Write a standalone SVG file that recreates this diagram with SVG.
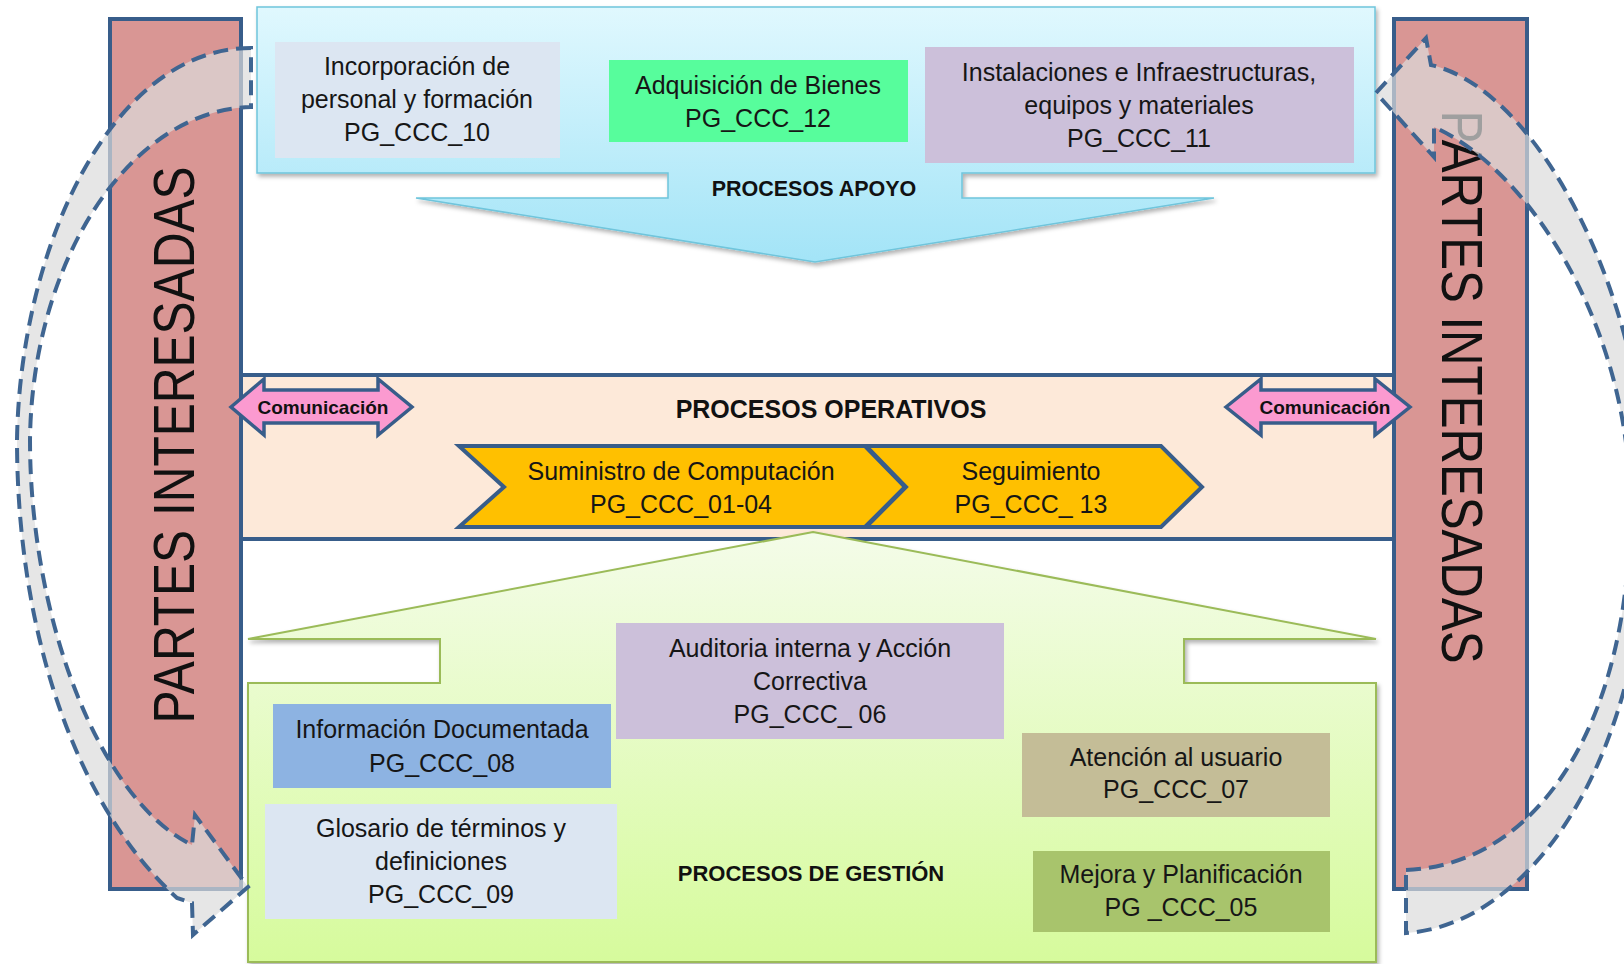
<svg xmlns="http://www.w3.org/2000/svg" width="1624" height="964" viewBox="0 0 1624 964">
<defs>
<linearGradient id="gSup" x1="0" y1="7" x2="0" y2="262" gradientUnits="userSpaceOnUse">
<stop offset="0" stop-color="#e0f8fe"/><stop offset="1" stop-color="#a3e4f7"/>
</linearGradient>
<linearGradient id="gMan" x1="0" y1="532" x2="0" y2="963" gradientUnits="userSpaceOnUse">
<stop offset="0" stop-color="#f4fce9"/><stop offset="1" stop-color="#d6fb9c"/>
</linearGradient>
<filter id="sh" x="-5%" y="-5%" width="110%" height="115%">
<feDropShadow dx="2" dy="3" stdDeviation="2" flood-color="#000" flood-opacity="0.3"/>
</filter>
<style>
.bar{fill:#d99694;stroke:#385d8a;stroke-width:4}
.pi{font-family:"Liberation Sans",Arial,sans-serif;font-size:57px;fill:#111;text-anchor:middle}
.t{font-family:"Liberation Sans",Arial,sans-serif;font-size:25px;fill:#161616;text-anchor:middle}
.b{font-family:"Liberation Sans",Arial,sans-serif;font-weight:bold;fill:#111;text-anchor:middle}
.chev{fill:#ffc000;stroke:#385d8a;stroke-width:4;stroke-linejoin:miter}
.comm{fill:#fb9ad0;stroke:#385d8a;stroke-width:3.5;stroke-linejoin:miter}
.cyc{fill:#dcdcdc;fill-opacity:0.7;stroke:#3f6591;stroke-width:4;stroke-dasharray:15 8}
</style>
</defs>
<rect width="1624" height="964" fill="#fff"/>

<g id="support">
<path d="M257,7 L1375,7 L1375,173 L962,173 L962,198 L1214,198 L815,262 L416,198 L668,198 L668,173 L257,173 Z" fill="url(#gSup)" stroke="#6fc5dc" stroke-width="1.5" filter="url(#sh)"/>
<text class="b" x="814" y="196" font-size="21.5">PROCESOS APOYO</text>
</g>
<g id="box-pg10">
<rect x="275" y="42" width="285" height="116" fill="#dce6f2"/>
<text class="t" x="417" y="75">Incorporación de</text>
<text class="t" x="417" y="108">personal y formación</text>
<text class="t" x="417" y="141">PG_CCC_10</text>
</g>
<g id="box-pg12">
<rect x="609" y="60" width="299" height="82" fill="#57fd9c"/>
<text class="t" x="758" y="94">Adquisición de Bienes</text>
<text class="t" x="758" y="127">PG_CCC_12</text>
</g>
<g id="box-pg11">
<rect x="925" y="47" width="429" height="116" fill="#ccc0da"/>
<text class="t" x="1139" y="81">Instalaciones e Infraestructuras,</text>
<text class="t" x="1139" y="114">equipos y materiales</text>
<text class="t" x="1139" y="147">PG_CCC_11</text>
</g>

<g id="operative">
<rect x="241" y="375" width="1153" height="164" fill="#fde9d9" stroke="#385d8a" stroke-width="4"/>
<text class="b" x="831" y="418" font-size="25">PROCESOS OPERATIVOS</text>
</g>

<g id="management">
<path d="M813,532 L1376,639 L1184,639 L1184,683 L1376,683 L1376,962 L248,962 L248,683 L440,683 L440,639 L248,639 Z" fill="url(#gMan)" stroke="#9bbb59" stroke-width="2" filter="url(#sh)"/>
<text class="b" x="811" y="881" font-size="22">PROCESOS DE GESTIÓN</text>
</g>
<g id="box-pg06">
<rect x="616" y="623" width="388" height="116" fill="#ccc0da"/>
<text class="t" x="810" y="657">Auditoria interna y Acción</text>
<text class="t" x="810" y="690">Correctiva</text>
<text class="t" x="810" y="723">PG_CCC_ 06</text>
</g>
<g id="box-pg08">
<rect x="273" y="704" width="338" height="84" fill="#8db3e2"/>
<text class="t" x="442" y="738">Información Documentada</text>
<text class="t" x="442" y="772">PG_CCC_08</text>
</g>
<g id="box-pg09">
<rect x="265" y="804" width="352" height="115" fill="#dce6f2"/>
<text class="t" x="441" y="837">Glosario de términos y</text>
<text class="t" x="441" y="870">definiciones</text>
<text class="t" x="441" y="903">PG_CCC_09</text>
</g>
<g id="box-pg07">
<rect x="1022" y="733" width="308" height="84" fill="#c4bd97"/>
<text class="t" x="1176" y="766">Atención al usuario</text>
<text class="t" x="1176" y="798">PG_CCC_07</text>
</g>
<g id="box-pg05">
<rect x="1033" y="851" width="297" height="81" fill="#a8c46c"/>
<text class="t" x="1181" y="883">Mejora y Planificación</text>
<text class="t" x="1181" y="916">PG _CCC_05</text>
</g>

<g id="chev-suministro">
<path class="chev" d="M459,446 L865,446 L905,487 L865,527 L459,527 L504,487 Z"/>
<text class="t" x="681" y="480">Suministro de Computación</text>
<text class="t" x="681" y="513">PG_CCC_01-04</text>
</g>
<g id="chev-seguimiento">
<path class="chev" d="M866,446 L1161,446 L1202,487 L1161,527 L866,527 L906,487 Z"/>
<text class="t" x="1031" y="480">Seguimiento</text>
<text class="t" x="1031" y="513">PG_CCC_ 13</text>
</g>

<g id="partes-left">
<rect class="bar" x="110" y="19" width="131" height="870"/>
<text class="pi" transform="translate(194,445) rotate(-90)" textLength="557" lengthAdjust="spacingAndGlyphs">PARTES INTERESADAS</text>
</g>
<g id="partes-right">
<rect class="bar" x="1394" y="19" width="133" height="870"/>
<text class="pi" transform="translate(1442,387) rotate(90)" textLength="553" lengthAdjust="spacingAndGlyphs">PARTES INTERESADAS</text>
</g>

<g id="connectors">
<g id="comm-left">
<path class="comm" d="M231,407 L264,379 L264,390 L378,390 L378,379 L412,407 L378,435 L378,423 L264,423 L264,435 Z"/>
<text class="b" x="323" y="414" font-size="19">Comunicación</text>
</g>
<g id="comm-right">
<path class="comm" d="M1226,407 L1261,379 L1261,390 L1375,390 L1375,379 L1410,407 L1375,435 L1375,423 L1261,423 L1261,435 Z"/>
<text class="b" x="1325" y="414" font-size="19">Comunicación</text>
</g>
<path id="cycle-left" class="cyc" d="M251,48 C110,48 20,250 17,440 C17,640 80,810 177,898 L192,903 L193,935 L248,887 L195,815 L192,845 C100,800 30,620 30,440 C32,260 130,110 251,107 Z"/>
<path id="cycle-right" class="cyc" d="M1406,870 C1540,865 1630,720 1630,510 C1632,330 1530,170 1434,127 L1434,157 L1376,93 L1426,38 L1431,65 C1540,90 1646,300 1648,500 C1648,760 1530,925 1406,933 Z"/>
</g>
</svg>
